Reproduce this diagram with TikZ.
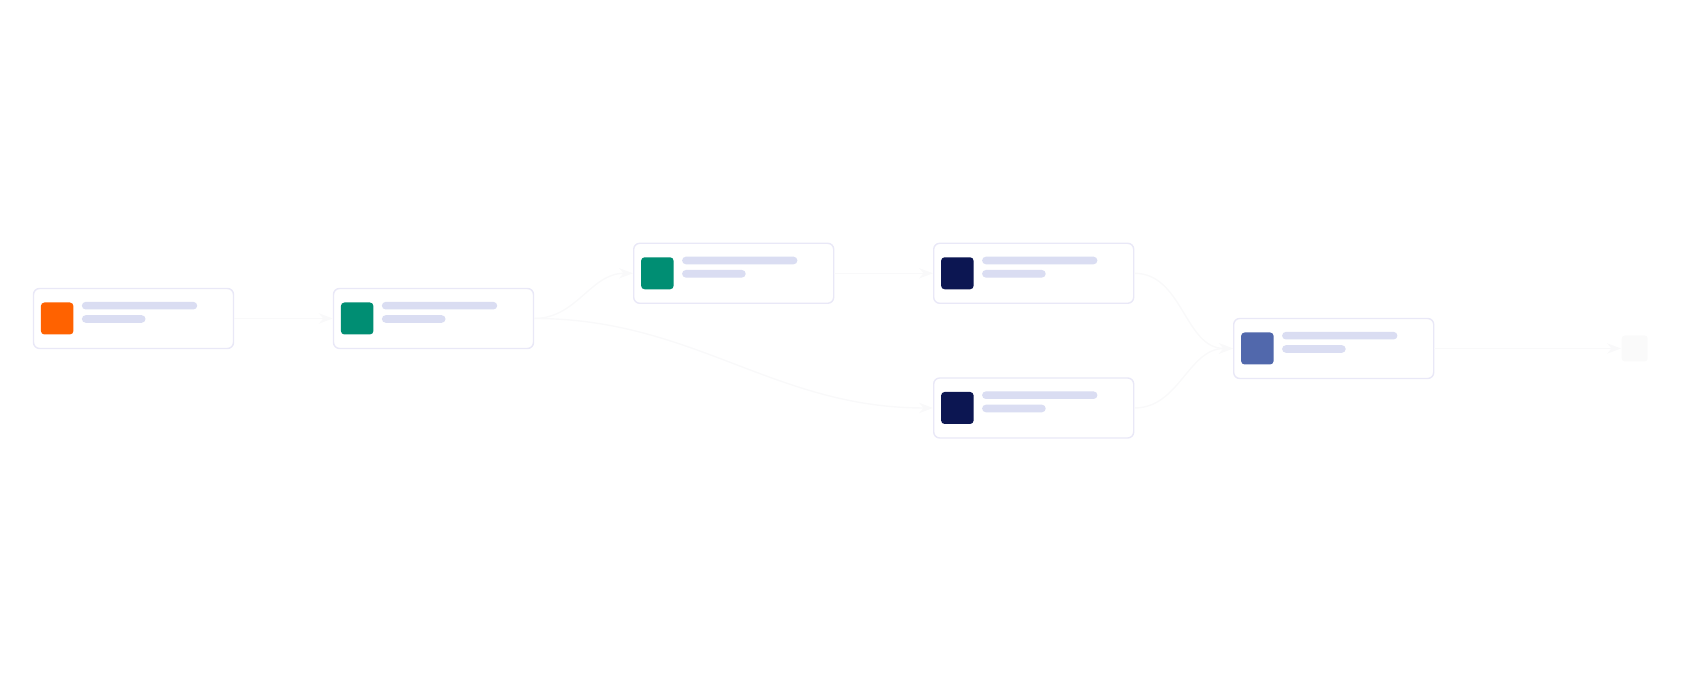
\documentclass[tikz,border=0pt]{standalone}
\usetikzlibrary{calc,arrows.meta}

\definecolor{cardline}{HTML}{E9E8F7}
\definecolor{barfill}{HTML}{DADDF2}
\definecolor{trigorange}{HTML}{FF6200}
\definecolor{stepgreen}{HTML}{008E73}
\definecolor{tasknavy}{HTML}{0C1652}
\definecolor{mergeblue}{HTML}{5168AC}
\definecolor{linkfaint}{HTML}{F9F9FA}
\definecolor{endfaint}{HTML}{FAFAFA}

\begin{document}
\begin{tikzpicture}[
    card/.style={draw=cardline, line width=0.4pt, fill=white, rounded corners=0.06cm,
      minimum width=2cm, minimum height=0.6cm, inner sep=0pt},
    icon/.style={rounded corners=0.035cm, minimum width=0.325cm, minimum height=0.32cm,
      inner sep=0pt, anchor=west},
    bar/.style={fill=barfill, rounded corners=0.038cm, minimum height=0.076cm,
      inner sep=0pt, anchor=west},
    link/.style={draw=linkfaint, line width=0.4pt, -{Stealth[length=4pt]}}
  ]
    \useasboundingbox (0,0) rectangle (17,6.82);

    % cards: name / x / y / icon colour
    \foreach \name/\x/\y/\col in {trigger/1.335/3.635/trigorange,
                                  step/4.335/3.635/stepgreen,
                                  branch/7.337/4.087/stepgreen,
                                  taskA/10.337/4.087/tasknavy,
                                  taskB/10.337/2.74/tasknavy,
                                  merge/13.337/3.335/mergeblue} {
      \node[card] (\name) at (\x,\y) {};
      \node[icon, fill=\col] (\name-icon) at ($(\name.west)+(0.074,0)$) {};
      \node[bar, minimum width=1.153cm] (\name-title) at ($(\name.west)+(0.484,0.128)$) {};
      \node[bar, minimum width=0.636cm] (\name-sub) at ($(\name.west)+(0.484,-0.005)$) {};
    }

    \node[fill=endfaint, rounded corners=0.03cm, minimum size=0.26cm, inner sep=0pt]
      (endpt) at (16.347,3.335) {};

    % links
    \draw[link] (trigger.east) -- (step.west);
    \draw[link] (step.east) to[out=0, in=180] (branch.west);
    \draw[link] (step.east) to[out=0, in=180] (taskB.west);
    \draw[link] (branch.east) -- (taskA.west);
    \draw[link] (taskA.east) to[out=0, in=180] (merge.west);
    \draw[link] (taskB.east) to[out=0, in=180] (merge.west);
    \draw[link] (merge.east) -- (endpt.west);
\end{tikzpicture}
\end{document}
